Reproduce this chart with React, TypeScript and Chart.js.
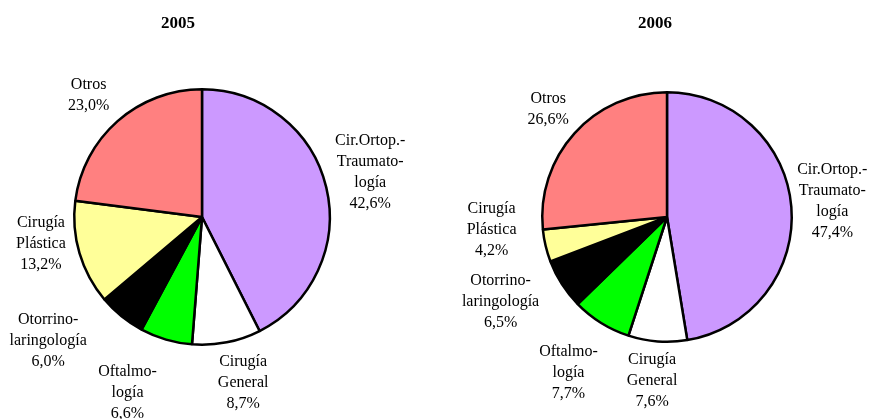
import React, { useEffect, useRef } from "react";
import { Chart, registerables } from "chart.js";

Chart.register(...registerables);

// ---- Data ----
const categories: string[][] = [
  ["Cir.Ortop.-", "Traumato-", "logía"],
  ["Cirugía", "General"],
  ["Oftalmo-", "logía"],
  ["Otorrino-", "laringología"],
  ["Cirugía", "Plástica"],
  ["Otros"],
];
const values2005 = [42.6, 8.7, 6.6, 6.0, 13.2, 23.0];
const values2006 = [47.4, 7.6, 7.7, 6.5, 4.2, 26.6];
const title2005 = "2005";
const title2006 = "2006";

// ---- Styles ----
const sliceColors = ["#CC99FF", "#FFFFFF", "#00FF00", "#000000", "#FFFF99", "#FF8080"];
const LABEL_FONT = '16px "Liberation Serif", "Times New Roman", serif';
const TITLE_FONT = 'bold 17px "Liberation Serif", "Times New Roman", serif';
const LINE_H = 21;
const GAP = 8;

// label fine-tuning (px) per slice
const nudges2005: [number, number][] = [[2, -4], [10, 2], [-28, 15], [-44, -6], [-7, -21], [-10, -4]];
const nudges2006: [number, number][] = [[-2, -1], [-3, 0], [-13, 16], [-22, -4], [-22, -25], [-5, -5]];

const fmt = (v: number) => v.toFixed(1).replace(".", ",") + "%";

function makeLabelPlugin(title: string, titleX: number, titleY: number, nudges: [number, number][]) {
  return {
    id: "pieLabels",
    afterDraw(chart: any) {
      const ctx = chart.ctx as CanvasRenderingContext2D;
      const meta = chart.getDatasetMeta(0);
      const data = chart.data.datasets[0].data as number[];
      ctx.save();
      ctx.fillStyle = "#000";
      ctx.textAlign = "center";
      ctx.textBaseline = "middle";
      ctx.font = LABEL_FONT;
      meta.data.forEach((arc: any, i: number) => {
        const p = arc.getProps(["x", "y", "startAngle", "endAngle", "outerRadius"], true);
        const mid = (p.startAngle + p.endAngle) / 2;
        const dx = Math.cos(mid);
        const dy = Math.sin(mid);
        const lines = [...categories[i], fmt(data[i])];
        const w = Math.max(...lines.map((l) => ctx.measureText(l).width));
        const h = lines.length * LINE_H;
        const R = p.outerRadius + GAP;
        const cx = p.x + dx * (R + w / 2) + nudges[i][0];
        const cy = p.y + dy * (R + h / 2) + nudges[i][1];
        lines.forEach((l, k) => {
          ctx.fillText(l, cx, cy + (k - (lines.length - 1) / 2) * LINE_H);
        });
      });
      ctx.font = TITLE_FONT;
      ctx.fillText(title, titleX, titleY);
      ctx.restore();
    },
  };
}

interface PieProps {
  values: number[];
  title: string;
  left: number;
  width: number;
  height: number;
  padding: { left: number; right: number; top: number; bottom: number };
  titleX: number;
  titleY: number;
  nudges: [number, number][];
}

function PieChart(props: PieProps) {
  const ref = useRef<HTMLCanvasElement | null>(null);
  useEffect(() => {
    if (!ref.current) return;
    const chart = new Chart(ref.current, {
      type: "pie",
      data: {
        labels: categories.map((c) => c.join(" ")),
        datasets: [
          {
            data: props.values,
            backgroundColor: sliceColors,
            borderColor: "#000000",
            borderWidth: 2.5,
            hoverOffset: 0,
            offset: 0,
          } as any,
        ],
      },
      options: {
        responsive: false,
        animation: false,
        devicePixelRatio: 1,
        layout: { padding: props.padding },
        plugins: {
          legend: { display: false },
          tooltip: { enabled: false },
          title: { display: false },
        },
        events: [],
      },
      plugins: [makeLabelPlugin(props.title, props.titleX, props.titleY, props.nudges)],
    });
    return () => chart.destroy();
  }, []);
  return (
    <canvas
      ref={ref}
      width={props.width}
      height={props.height}
      style={{ position: "absolute", left: props.left, top: 0, width: props.width, height: props.height }}
    />
  );
}

export default function App() {
  return (
    <div style={{ position: "absolute", left: 0, top: 0, width: 869, height: 419, background: "#fff", overflow: "hidden" }}>
      <PieChart
        values={values2005}
        title={title2005}
        left={0}
        width={435}
        height={419}
        padding={{ left: 73, top: 88, right: 104, bottom: 73 }}
        titleX={178}
        titleY={24}
        nudges={nudges2005}
      />
      <PieChart
        values={values2006}
        title={title2006}
        left={435}
        width={434}
        height={419}
        padding={{ left: 106, top: 91, right: 76, bottom: 76 }}
        titleX={220}
        titleY={24}
        nudges={nudges2006}
      />
    </div>
  );
}
